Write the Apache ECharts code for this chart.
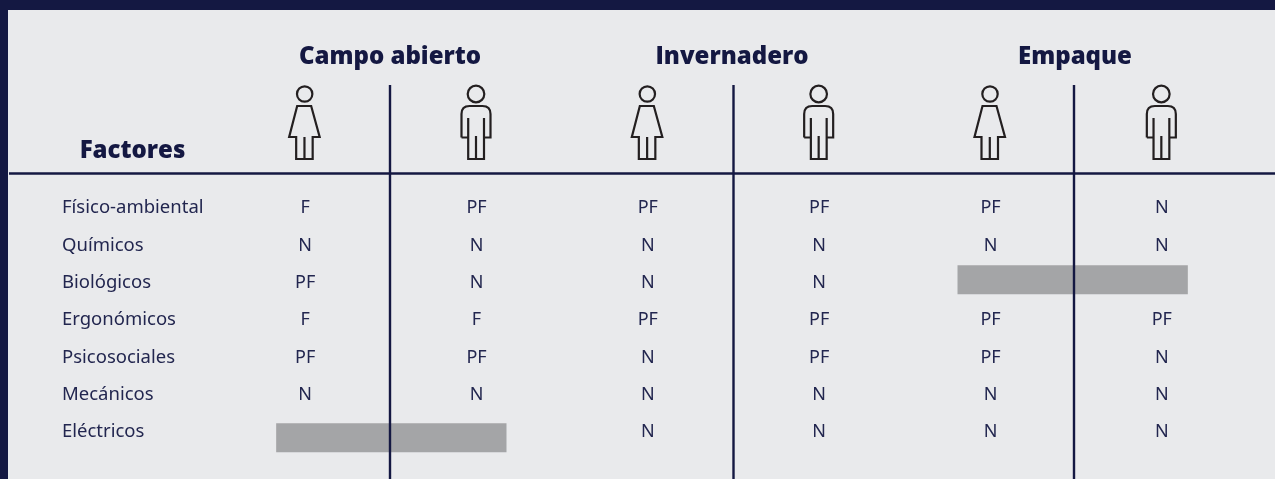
<!DOCTYPE html>
<html>
<head>
<meta charset="utf-8">
<style>
  html, body { margin: 0; padding: 0; background: #141842; }
  #chart { width: 1275px; height: 479px; }
</style>
</head>
<body>
<div id="chart"></div>
<script src="https://cdn.jsdelivr.net/npm/echarts@6/dist/echarts.min.js"></script>
<script>
const factores = ["Físico-ambiental", "Químicos", "Biológicos", "Ergonómicos", "Psicosociales", "Mecánicos", "Eléctricos"];
const grupos = ["Campo abierto", "Invernadero", "Empaque"];

// one list per column, null where the table has a grey band
const campoMujer = ["F", "N", "PF", "F", "PF", "N", null];
const campoHombre = ["PF", "N", "N", "F", "PF", "N", null];
const invernaderoMujer = ["PF", "N", "N", "PF", "N", "N", "N"];
const invernaderoHombre = ["PF", "N", "N", "PF", "PF", "N", "N"];
const empaqueMujer = ["PF", "N", null, "PF", "PF", "N", "N"];
const empaqueHombre = ["N", "N", null, "PF", "N", "N", "N"];
const columnas = [campoMujer, campoHombre, invernaderoMujer, invernaderoHombre, empaqueMujer, empaqueHombre];

// first column, last column, row
const sinDatos = [[0, 1, 6], [4, 5, 2]];

const NAVY = "#141842";
const TEXT = "#22264f";
const ICON = "#231f20";
const FONT = "'Noto Sans', sans-serif";
const HEAD_FONT = "'Open Sans', sans-serif";

const celdas = [];
columnas.forEach((col, c) => {
  col.forEach((v, r) => {
    if (v !== null) celdas.push([c, r, v]);
  });
});

// outlines of the two figures, drawn around x = 0
const mujer = "M-7.5 106 L6.5 106 L15 137 L8 137 L8 159 L-8.5 159 L-8.5 137 L-15.5 137 Z M-0.2 137 L-0.2 159";
const hombre = "M-14.5 137.5 L-14.5 114 Q-14.5 106 -6.5 106 L6.5 106 Q14.5 106 14.5 114 L14.5 137.5 L8 137.5 M8 118 L8 159 L-7.8 159 L-7.8 118 M-7.8 137.5 L-14.5 137.5 M0 136 L0 159";

function linea(x1, y1, x2, y2) {
  return { type: "line", z: 10, shape: { x1, y1, x2, y2 }, style: { stroke: NAVY, lineWidth: 2.4 } };
}

function titulo(text, x, y) {
  return {
    type: "text", z: 10, x, y,
    style: {
      text, fill: NAVY,
      font: "800 24px " + HEAD_FONT, textAlign: "center", textVerticalAlign: "middle"
    }
  };
}

const graphic = [
  { type: "rect", z: -1, shape: { x: 8, y: 10, width: 1267, height: 469 }, style: { fill: "#e9eaec" } },
  linea(9, 173.5, 1275, 173.5),
  linea(390, 85, 390, 479),
  linea(733.5, 85, 733.5, 479),
  linea(1074, 85, 1074, 479),
  titulo(grupos[0], 390, 57),
  titulo(grupos[1], 732, 57),
  titulo(grupos[2], 1075, 57),
  titulo("Factores", 132.5, 151)
];

const chart = echarts.init(document.getElementById("chart"));
chart.setOption({
  backgroundColor: NAVY,
  animation: false,
  graphic,
  grid: { left: 219.5, right: 27.5, top: 189.5, height: 261.3 },
  xAxis: {
    type: "category",
    data: [0, 1, 2, 3, 4, 5],
    show: false
  },
  yAxis: {
    type: "category",
    data: factores,
    inverse: true,
    axisLine: { show: false },
    axisTick: { show: false },
    splitLine: { show: false },
    axisLabel: { color: TEXT, fontFamily: FONT, fontSize: 18.5, align: "left", margin: 157.5 }
  },
  series: [
    {
      type: "custom",
      data: sinDatos,
      encode: { x: [0, 1], y: 2 },
      clip: false,
      renderItem: (params, api) => {
        const a = api.coord([api.value(0), api.value(2)]);
        const b = api.coord([api.value(1), api.value(2)]);
        // the bands sit a little off the row centre in the original
        const abajo = api.value(2) === 6;
        return {
          type: "rect",
          shape: {
            x: a[0] - (abajo ? 29 : 33),
            y: a[1] + (abajo ? 5.5 : -3) - 14.5,
            width: b[0] - a[0] + 59,
            height: 29
          },
          style: { fill: "#a4a5a7" }
        };
      }
    },
    {
      type: "custom",
      data: [[0, 0], [1, 0], [2, 0], [3, 0], [4, 0], [5, 0]],
      encode: { x: 0, y: 1 },
      clip: false,
      z: 11,
      renderItem: (params, api) => {
        const cx = api.coord([api.value(0), 0])[0];
        const esMujer = api.value(0) % 2 === 0;
        return {
          type: "group",
          children: [
            {
              type: "circle",
              shape: { cx: cx - 0.5, cy: 94, r: esMujer ? 7.7 : 8.3 },
              style: { fill: "none", stroke: ICON, lineWidth: 2.2 }
            },
            {
              type: "path",
              shape: {
                pathData: esMujer ? mujer : hombre,
                layout: "cover",
                x: cx + (esMujer ? -16 : -15),
                y: 106,
                width: esMujer ? 30.5 : 29,
                height: 53
              },
              style: { fill: "none", stroke: ICON, lineWidth: 2.2 }
            }
          ]
        };
      }
    },
    {
      type: "scatter",
      data: celdas,
      symbolSize: 0,
      itemStyle: { opacity: 1 },
      label: {
        show: true,
        position: "inside",
        formatter: p => p.value[2],
        color: TEXT,
        fontFamily: FONT,
        fontSize: 18
      }
    }
  ]
});
</script>
</body>
</html>
